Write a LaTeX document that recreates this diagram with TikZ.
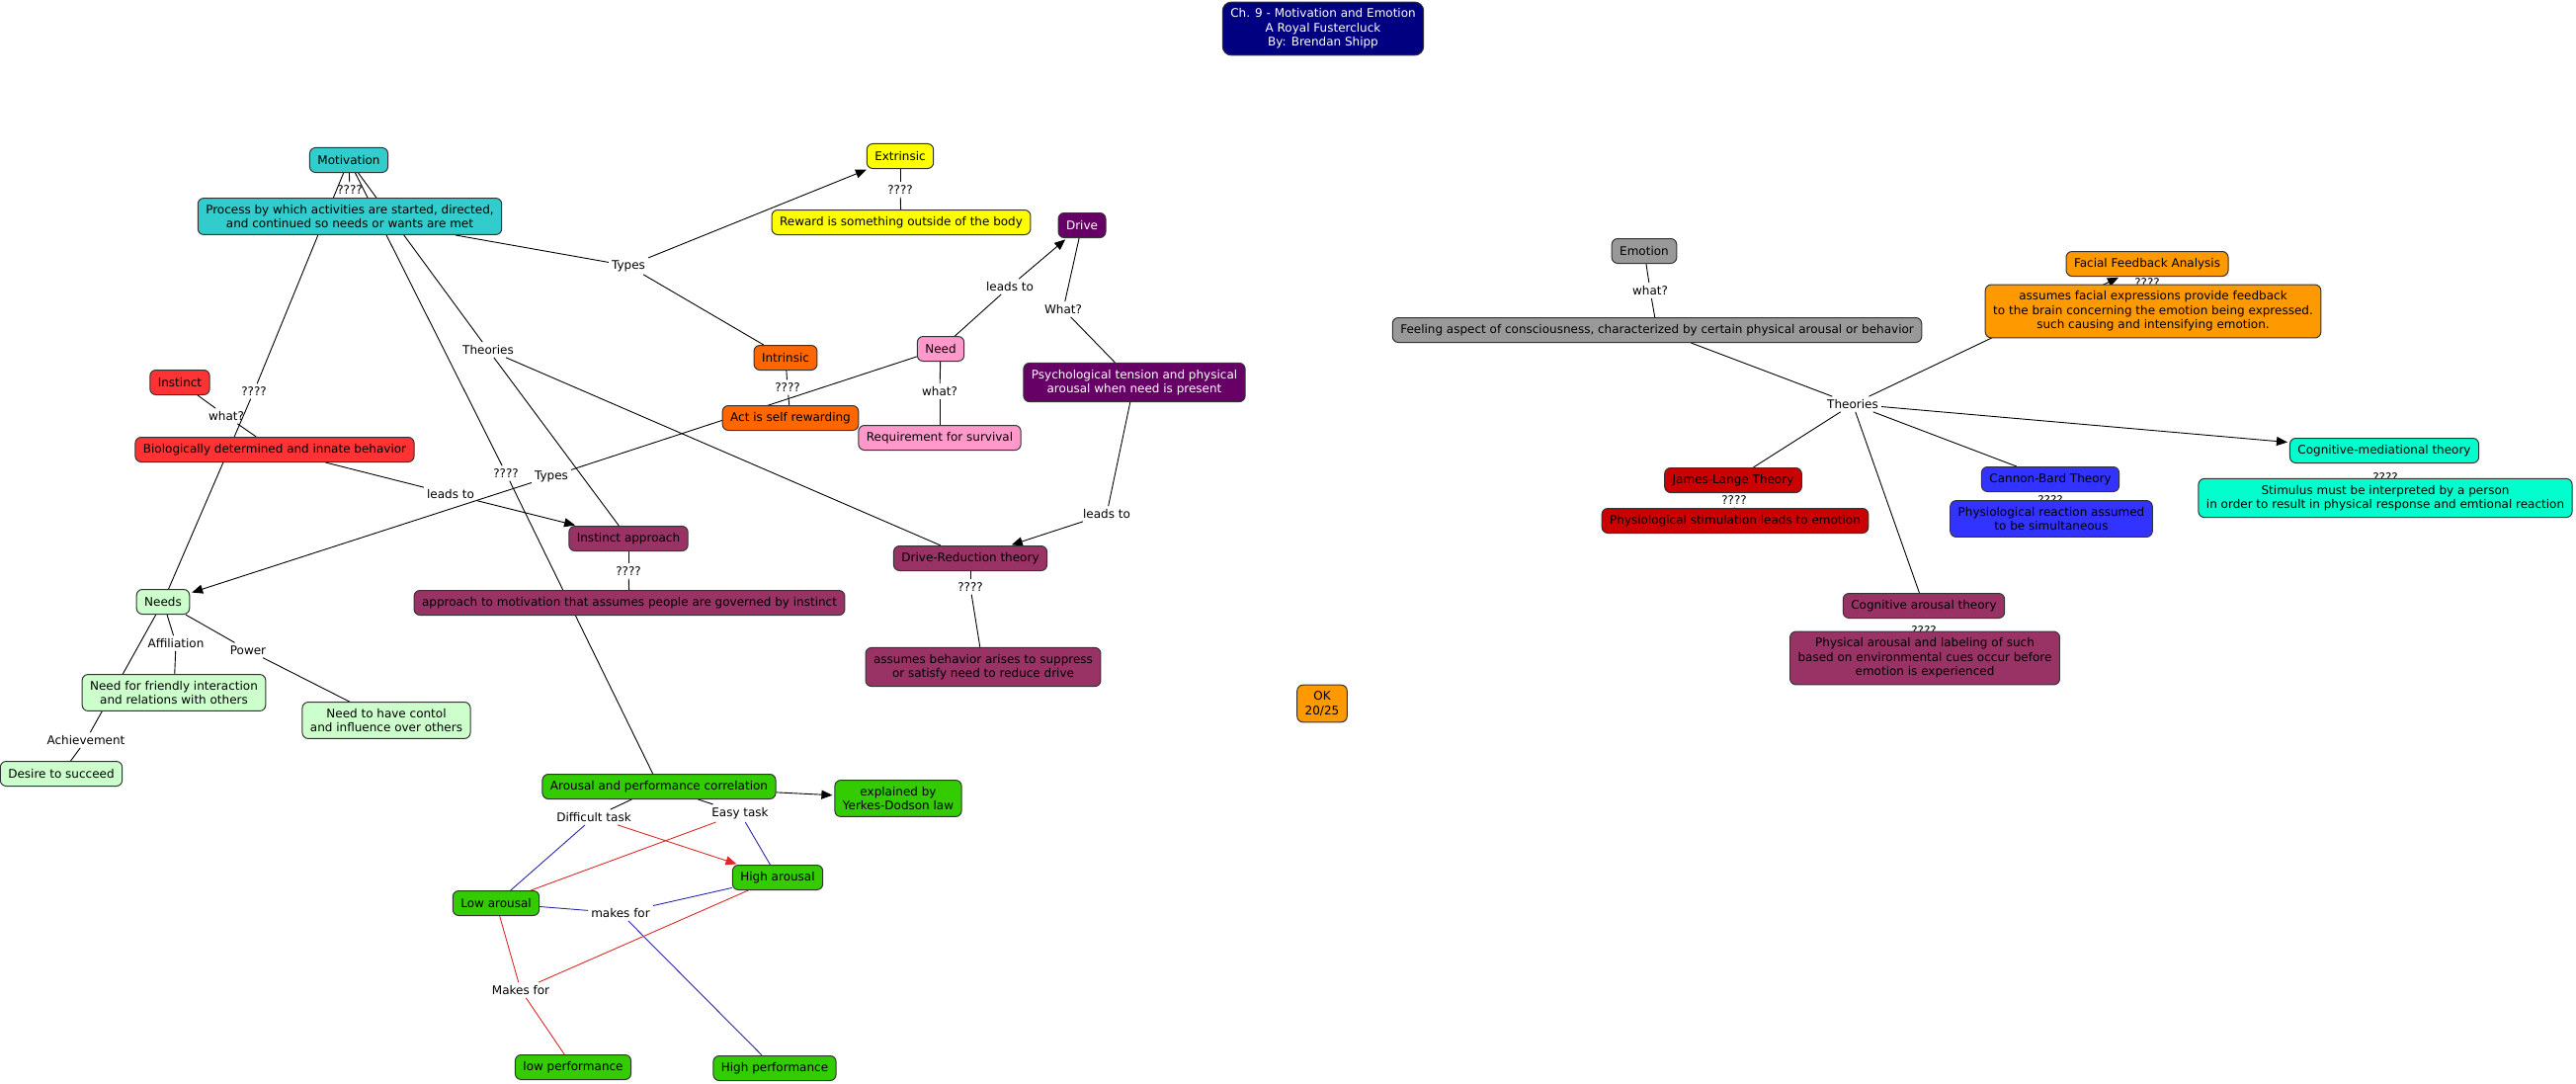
\documentclass[tikz,border=0pt]{standalone}
\usepackage{fontspec}
\setmainfont{DejaVu Sans}
\usepackage{tikz}
\usetikzlibrary{arrows.meta, positioning, backgrounds}
\definecolor{mapNavy}{RGB}{0, 0, 128}
\definecolor{mapTeal}{RGB}{51, 204, 204}
\definecolor{mapYellow}{RGB}{255, 255, 0}
\definecolor{mapPlum}{RGB}{102, 0, 102}
\definecolor{mapOrange}{RGB}{255, 102, 0}
\definecolor{mapPink}{RGB}{255, 153, 204}
\definecolor{mapRed}{RGB}{255, 51, 51}
\definecolor{mapMaroon}{RGB}{153, 51, 102}
\definecolor{mapMint}{RGB}{204, 255, 204}
\definecolor{mapGreen}{RGB}{51, 204, 0}
\definecolor{mapAmber}{RGB}{255, 153, 0}
\definecolor{mapGray}{RGB}{153, 153, 153}
\definecolor{mapCrimson}{RGB}{204, 0, 0}
\definecolor{mapBlue}{RGB}{51, 51, 255}
\definecolor{mapAqua}{RGB}{0, 255, 204}
\definecolor{wireBlue}{RGB}{40, 40, 170}
\definecolor{wireRed}{RGB}{220, 40, 40}

\begin{document}
\begin{tikzpicture}[
  x=1pt, y=-1pt,
  concept/.style={
    rectangle, rounded corners=6pt,
    draw=black!80, line width=1pt,
    inner xsep=8pt, inner ysep=6.5pt, minimum height=25pt,
    align=center, font=\fontsize{12}{14.6}\selectfont
  },
  phrase/.style={inner sep=3pt, font=\fontsize{12}{14.6}\selectfont},
  wire/.style={line width=0.9pt, draw=black},
  >={Triangle[length=11pt, width=9pt]}
]

\useasboundingbox (0,0) rectangle (2607,1097);

% linking phrases (some sit half under the boxes below them)
\node[phrase] (q1) at (354,192) {????};
\node[phrase] (q2) at (257,396) {????};
\node[phrase] (theo1) at (494,354) {Theories};
\node[phrase] (types1) at (636,269) {Types};
\node[phrase] (q3) at (512,479) {????};
\node[phrase] (types2) at (558,482) {Types};
\node[phrase] (leads1) at (456,500) {leads to};
\node[phrase] (what1) at (229,421) {what?};
\node[phrase] (q4) at (911,192) {????};
\node[phrase] (q5) at (797,392) {????};
\node[phrase] (leads2) at (1022,290) {leads to};
\node[phrase] (what2) at (951,396) {what?};
\node[phrase] (what3) at (1076,313) {What?};
\node[phrase] (leads3) at (1120,520) {leads to};
\node[phrase] (q6) at (636,578) {????};
\node[phrase] (q7) at (982,594) {????};
\node[phrase] (affil) at (178,651) {Affiliation};
\node[phrase] (power) at (251,658) {Power};
\node[phrase] (achieve) at (87,749) {Achievement};
\node[phrase] (difficult) at (601,827) {Difficult task};
\node[phrase] (easy) at (749,823) {Easy task};
\node[phrase] (makes1) at (628,924) {makes for};
\node[phrase] (makes2) at (527,1002) {Makes for};
\node[phrase] (what4) at (1670,294) {what?};
\node[phrase] (theo2) at (1875,409) {Theories};
\node[phrase] (q8) at (1755,506) {????};
\node[phrase] (q9) at (2075,506) {????};
\node[phrase] (q10) at (2414,483) {????};
\node[phrase] (q11) at (1947,638) {????};
\node[phrase] (q12) at (2173,286) {????};

% title
\node[concept, fill=mapNavy, text=white, rounded corners=9pt] (title) at (1339,29)
  {Ch. 9 - Motivation and Emotion\\A Royal Fustercluck\\By: Brendan Shipp};

% motivation side
\node[concept, fill=mapTeal] (motiv) at (353,162) {Motivation};
\node[concept, fill=mapTeal] (process) at (354,219)
  {Process by which activities are started, directed,\\and continued so needs or wants are met};
\node[concept, fill=mapYellow] (extrin) at (911,158) {Extrinsic};
\node[concept, fill=mapYellow] (reward) at (912,225) {Reward is something outside of the body};
\node[concept, fill=mapPlum, text=white] (drive) at (1095,228) {Drive};
\node[concept, fill=mapOrange] (intrin) at (795,362) {Intrinsic};
\node[concept, fill=mapOrange] (selfrew) at (800,423) {Act is self rewarding};
\node[concept, fill=mapPink] (need) at (952,353) {Need};
\node[concept, fill=mapPink] (survival) at (951,443) {Requirement for survival};
\node[concept, fill=mapPlum, text=white] (tension) at (1148,387)
  {Psychological tension and physical\\arousal when need is present};
\node[concept, fill=mapRed] (instinct) at (182,387) {Instinct};
\node[concept, fill=mapRed] (innate) at (278,455) {Biologically determined and innate behavior};
\node[concept, fill=mapMaroon] (instappr) at (636,545) {Instinct approach};
\node[concept, fill=mapMaroon] (instdef) at (637,610)
  {approach to motivation that assumes people are governed by instinct};
\node[concept, fill=mapMaroon] (drivered) at (982,565) {Drive-Reduction theory};
\node[concept, fill=mapMaroon] (drivedef) at (995,675)
  {assumes behavior arises to suppress\\or satisfy need to reduce drive};
\node[concept, fill=mapMint] (needs) at (165,609) {Needs};
\node[concept, fill=mapMint] (friendly) at (176,701)
  {Need for friendly interaction\\and relations with others};
\node[concept, fill=mapMint] (control) at (391,729)
  {Need to have contol\\and influence over others};
\node[concept, fill=mapMint] (succeed) at (62,783) {Desire to succeed};
\node[concept, fill=mapGreen] (arousal) at (667,796) {Arousal and performance correlation};
\node[concept, fill=mapGreen] (yerkes) at (909,808) {explained by\\Yerkes-Dodson law};
\node[concept, fill=mapGreen] (higharo) at (787,888) {High arousal};
\node[concept, fill=mapGreen] (lowaro) at (502,914) {Low arousal};
\node[concept, fill=mapGreen] (lowperf) at (580,1080) {low performance};
\node[concept, fill=mapGreen] (highperf) at (784,1081) {High performance};

% grade
\node[concept, fill=mapAmber] (grade) at (1338,712) {OK\\20/25};

% emotion side
\node[concept, fill=mapGray] (emotion) at (1664,254) {Emotion};
\node[concept, fill=mapGray] (feeling) at (1677,334)
  {Feeling aspect of consciousness, characterized by certain physical arousal or behavior};
\node[concept, fill=mapAmber] (facial) at (2173,267) {Facial Feedback Analysis};
\node[concept, fill=mapAmber] (facialdef) at (2179,315)
  {assumes facial expressions provide feedback\\to the brain concerning the emotion being expressed.\\such causing and intensifying emotion.};
\node[concept, fill=mapCrimson] (james) at (1754,486) {James-Lange Theory};
\node[concept, fill=mapCrimson] (jamesdef) at (1756,527) {Physiological stimulation leads to emotion};
\node[concept, fill=mapBlue] (cannon) at (2075,485) {Cannon-Bard Theory};
\node[concept, fill=mapBlue] (cannondef) at (2076,525)
  {Physiological reaction assumed\\to be simultaneous};
\node[concept, fill=mapAqua] (cogmed) at (2413,456) {Cognitive-mediational theory};
\node[concept, fill=mapAqua] (cogmeddef) at (2414,504)
  {Stimulus must be interpreted by a person\\in order to result in physical response and emtional reaction};
\node[concept, fill=mapMaroon] (cogaro) at (1947,613) {Cognitive arousal theory};
\node[concept, fill=mapMaroon] (cogarodef) at (1948,666)
  {Physical arousal and labeling of such\\based on environmental cues occur before\\emotion is experienced};

\begin{scope}[on background layer]
% motivation links
\draw[wire] (motiv) -- (q1);
\draw[wire] (q1) -- (process);
\draw[wire] (motiv) -- (q2);
\draw[wire] (q2) -- (needs);
\draw[wire] (motiv) -- (theo1);
\draw[wire] (theo1) -- (instappr);
\draw[wire] (theo1) -- (drivered);
\draw[wire] (motiv) -- (q3);
\draw[wire] (q3) -- (arousal);
\draw[wire] (process) -- (types1);
\draw[wire, ->, shorten >=2pt] (types1) -- (extrin);
\draw[wire] (types1) -- (intrin);
\draw[wire] (instinct) -- (what1);
\draw[wire] (what1) -- (innate);
\draw[wire] (innate) -- (leads1);
\draw[wire, ->, shorten >=2pt] (leads1) -- (instappr);
\draw[wire] (extrin) -- (q4);
\draw[wire] (q4) -- (reward);
\draw[wire] (intrin) -- (q5);
\draw[wire] (q5) -- (selfrew);
\draw[wire] (need) -- (types2);
\draw[wire, ->, shorten >=2pt] (types2) -- (needs);
\draw[wire] (need) -- (leads2);
\draw[wire, ->, shorten >=2pt] (leads2) -- (drive);
\draw[wire] (need) -- (what2);
\draw[wire] (what2) -- (survival);
\draw[wire] (drive) -- (what3);
\draw[wire] (what3) -- (tension);
\draw[wire] (tension) -- (leads3);
\draw[wire, ->, shorten >=2pt] (leads3) -- (drivered);
\draw[wire] (instappr) -- (q6);
\draw[wire] (q6) -- (instdef);
\draw[wire] (drivered) -- (q7);
\draw[wire] (q7) -- (drivedef);
\draw[wire] (needs) -- (affil);
\draw[wire] (affil) -- (friendly);
\draw[wire] (needs) -- (power);
\draw[wire] (power) -- (control);
\draw[wire] (needs) -- (achieve);
\draw[wire] (achieve) -- (succeed);
% arousal and performance
\draw[wire] (arousal) -- (difficult);
\draw[wire] (arousal) -- (easy);
\draw[wire, ->, shorten >=2pt] (arousal) -- (yerkes);
\draw[wire, draw=wireBlue] (difficult) -- (lowaro);
\draw[wire, draw=wireRed, ->, shorten >=2pt] (difficult) -- (higharo);
\draw[wire, draw=wireBlue] (easy) -- (higharo);
\draw[wire, draw=wireRed] (easy) -- (lowaro);
\draw[wire, draw=wireBlue] (lowaro) -- (makes1);
\draw[wire, draw=wireBlue] (higharo) -- (makes1);
\draw[wire, draw=wireBlue] (makes1) -- (highperf);
\draw[wire, draw=wireRed] (lowaro) -- (makes2);
\draw[wire, draw=wireRed] (higharo) -- (makes2);
\draw[wire, draw=wireRed] (makes2) -- (lowperf);
% emotion links
\draw[wire] (emotion) -- (what4);
\draw[wire] (what4) -- (feeling);
\draw[wire] (feeling) -- (theo2);
\draw[wire] (theo2) -- (james);
\draw[wire] (theo2) -- (cannon);
\draw[wire] (theo2) -- (cogaro);
\draw[wire, ->, shorten >=2pt] (theo2) -- (cogmed);
\draw[wire, ->, shorten >=2pt] (theo2) -- (facial);
\draw[wire] (james) -- (q8);
\draw[wire] (q8) -- (jamesdef);
\end{scope}

\end{tikzpicture}
\end{document}
